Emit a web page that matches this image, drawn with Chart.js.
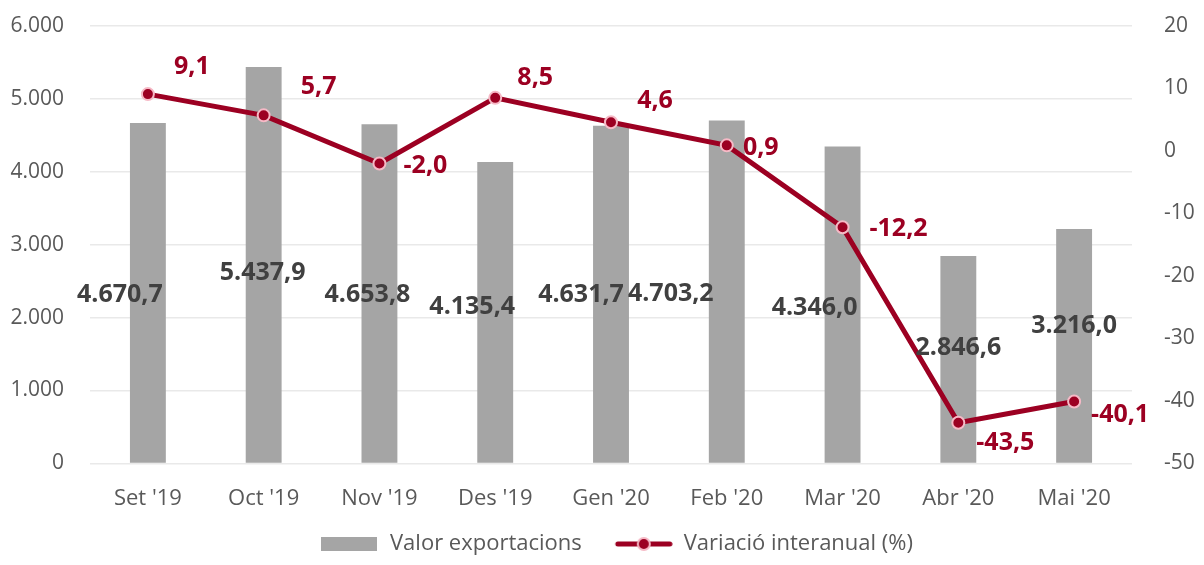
<!DOCTYPE html>
<html>
<head>
<meta charset="utf-8">
<script src="https://cdn.jsdelivr.net/npm/chart.js@4"></script>
<style>
  html, body { margin: 0; padding: 0; background: #fff; }
  #wrap { width: 1204px; height: 565px; }
</style>
</head>
<body>
<div id="wrap"><canvas id="chart"></canvas></div>
<script>
const months = ["Set '19", "Oct '19", "Nov '19", "Des '19", "Gen '20", "Feb '20", "Mar '20", "Abr '20", "Mai '20"];
const exportValues = [4670.7, 5437.9, 4653.8, 4135.4, 4631.7, 4703.2, 4346.0, 2846.6, 3216.0];
const yearlyChange = [9.1, 5.7, -2.0, 8.5, 4.6, 0.9, -12.2, -43.5, -40.1];
const leftTicks = [0, 1000, 2000, 3000, 4000, 5000, 6000];
const rightTicks = [-50, -40, -30, -20, -10, 0, 10, 20];

// where the labels sit (manually placed in the original)
const barLabelY = [2317, 2607, 2317, 2152, 2317, 2331, 2138, 1586, 1890];
const barLabelDx = [-28, -1, -12, -23, -30, -56, -28, 0, 0];
const lineLabelDx = [44, 55, 46, 40, 44, 34, 56, 47, 46];
const lineLabelDy = [-27, -28, 2, -20, -21, 3, 2, 20, 13];

const fmt = (v, d) => v.toLocaleString('de-DE', { minimumFractionDigits: d, maximumFractionDigits: d });

const FONT = "'Open Sans', 'Noto Sans', sans-serif";
const RED = '#9c0022';
const PINK = '#f6b9c6';
const GREY = '#a5a5a5';
const TXT = '#595959';

function legendIcon(kind) {
  // 30px of blank space on the left acts as the gap between legend items
  const c = document.createElement('canvas');
  c.width = 88; c.height = 18;
  const g = c.getContext('2d');
  if (kind === 'bar') {
    g.fillStyle = GREY;
    g.fillRect(30, 2, 56, 14);
  } else {
    g.strokeStyle = RED; g.lineWidth = 5; g.lineCap = 'round';
    g.beginPath(); g.moveTo(33, 9); g.lineTo(85, 9); g.stroke();
    g.fillStyle = RED; g.strokeStyle = PINK; g.lineWidth = 2;
    g.beginPath(); g.arc(59, 9, 6, 0, Math.PI * 2); g.fill(); g.stroke();
  }
  return c;
}

const labelPlugin = {
  id: 'valueLabels',
  afterDatasetsDraw(chart) {
    const ctx = chart.ctx;
    const y0 = chart.scales.y;
    ctx.save();
    ctx.textAlign = 'center';
    ctx.textBaseline = 'middle';
    ctx.font = "bold 25px " + FONT;
    ctx.fillStyle = '#404040';
    chart.getDatasetMeta(1).data.forEach((bar, i) => {
      ctx.fillText(fmt(exportValues[i], 1), bar.x + barLabelDx[i], y0.getPixelForValue(barLabelY[i]));
    });
    ctx.fillStyle = RED;
    chart.getDatasetMeta(0).data.forEach((pt, i) => {
      ctx.fillText(fmt(yearlyChange[i], 1), pt.x + lineLabelDx[i], pt.y + lineLabelDy[i]);
    });
    ctx.restore();
  }
};

const fitSide = (w) => (s) => { s.width = w; s.paddingTop = 0; s.paddingBottom = 0; };

new Chart(document.getElementById('chart'), {
  data: {
    labels: months,
    datasets: [
      {
        type: 'line',
        label: 'Variació interanual (%)',
        data: yearlyChange,
        yAxisID: 'y1',
        borderColor: RED,
        borderWidth: 5,
        pointRadius: 6,
        pointBackgroundColor: RED,
        pointBorderColor: PINK,
        pointBorderWidth: 2,
        tension: 0,
        order: 1,
      },
      {
        type: 'bar',
        label: 'Valor exportacions',
        data: exportValues,
        yAxisID: 'y',
        backgroundColor: GREY,
        barPercentage: 0.62,
        categoryPercentage: 0.5,
        order: 2,
      },
    ],
  },
  options: {
    responsive: true,
    maintainAspectRatio: false,
    animation: false,
    layout: { padding: { top: 26, left: 0, right: 0, bottom: 0 } },
    plugins: {
      tooltip: { enabled: false },
      legend: {
        position: 'bottom',
        reverse: true,
        labels: {
          usePointStyle: true,
          pointStyleWidth: 88,
          boxHeight: 18,
          padding: 3,
          color: TXT,
          font: { family: FONT, size: 22 },
          generateLabels(chart) {
            return chart.data.datasets.map((ds, i) => ({
              text: ds.label,
              datasetIndex: i,
              pointStyle: legendIcon(ds.type),
              fillStyle: 'transparent',
              strokeStyle: 'transparent',
              lineWidth: 0,
              fontColor: TXT,
            }));
          },
        },
      },
    },
    scales: {
      x: {
        grid: { display: false },
        border: { display: false },
        ticks: { color: TXT, font: { family: FONT, size: 22 }, padding: 14 },
        // empty title used only as a small spacer above the legend
        title: { display: true, text: ' ', font: { size: 1 }, padding: { top: 2, bottom: 1 } },
      },
      y: {
        position: 'left',
        min: 0,
        max: 6000,
        afterBuildTicks: (s) => { s.ticks = leftTicks.map(v => ({ value: v })); },
        afterFit: fitSide(90),
        grid: { color: '#e9e9e9', lineWidth: 1.5, drawTicks: false },
        border: { display: false },
        ticks: {
          color: TXT,
          font: { family: FONT, size: 21 },
          padding: 26,
          callback: (v) => fmt(v, 0),
        },
      },
      y1: {
        position: 'right',
        min: -50,
        max: 20,
        afterBuildTicks: (s) => { s.ticks = rightTicks.map(v => ({ value: v })); },
        afterFit: fitSide(72),
        grid: { display: false },
        border: { display: false },
        ticks: {
          color: TXT,
          font: { family: FONT, size: 21 },
          padding: 24,
        },
      },
    },
  },
  plugins: [labelPlugin],
});
</script>
</body>
</html>
